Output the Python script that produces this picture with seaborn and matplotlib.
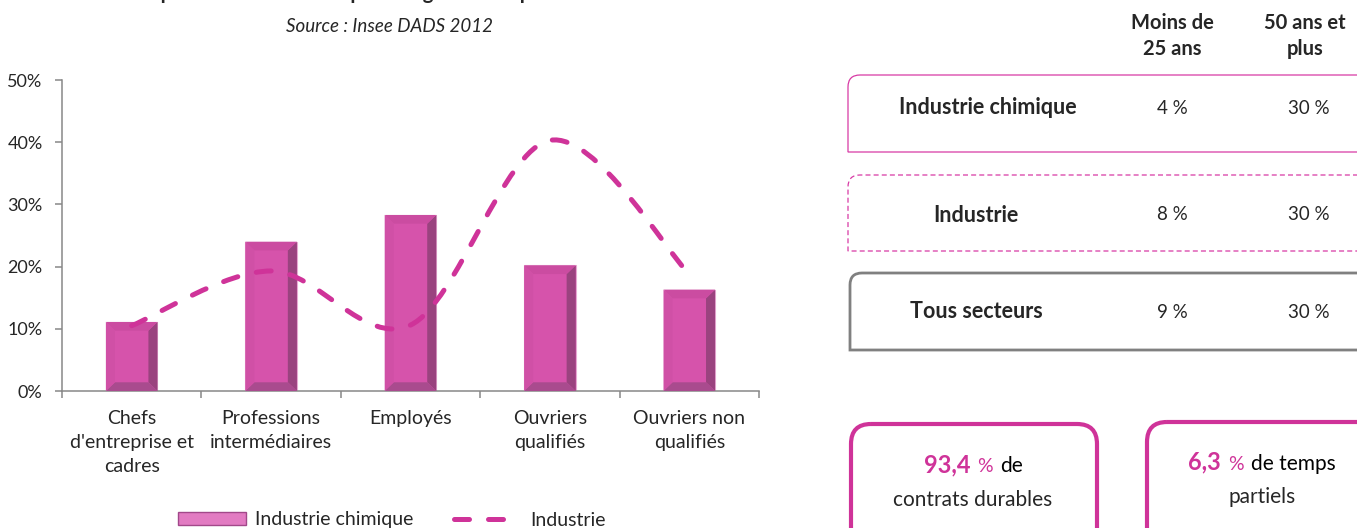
import numpy as np
import seaborn as sns
import matplotlib.pyplot as plt
from matplotlib.path import Path
from matplotlib.patches import PathPatch, Patch, Polygon, FancyBboxPatch
from matplotlib.lines import Line2D
from matplotlib.ticker import PercentFormatter, FixedLocator
from matplotlib.offsetbox import TextArea, HPacker, AnnotationBbox

# ---- data ----
categories = ["Chefs\nd'entreprise et\ncadres", "Professions\nintermédiaires",
              "Employés", "Ouvriers\nqualifiés", "Ouvriers non\nqualifiés"]
chimie = [0.111, 0.240, 0.283, 0.202, 0.163]
industrie = [0.105, 0.193, 0.106, 0.403, 0.188]

row_labels = ["Industrie chimique", "Industrie", "Tous secteurs"]
moins_25 = ["4 %", "8 %", "9 %"]
plus_50 = ["30 %", "30 %", "30 %"]
col_headers = ["Moins de\n25 ans", "50 ans et\nplus"]

PINK = "#D653AB"
LINE = "#CF3399"
GREY = "#888888"

sns.set_style("white")
plt.rcParams["font.family"] = ["Lato", "DejaVu Sans"]

W, H = 1357, 528
fig = plt.figure(figsize=(W / 100, H / 100), dpi=100)

# ---- bar + line chart ----
ax = fig.add_axes([62 / W, (H - 391) / H, (759 - 62) / W, (391 - 80) / H])
sns.barplot(x=list(range(len(categories))), y=chimie, ax=ax, color=PINK,
            width=0.37, saturation=1, edgecolor="#E7A9D2", linewidth=0.8, zorder=2)
ax.set_xlim(-0.5, len(categories) - 0.5)
ax.set_ylim(0, 0.5)

# bevel on each bar, taken from the patch geometry
bx, by = 0.065, 0.014
for p in ax.patches:
    x0, w, h = p.get_x(), p.get_width(), p.get_height()
    x1 = x0 + w
    ax.add_patch(Polygon([[x1, 0], [x1, h], [x1 - bx, h - by], [x1 - bx, by]],
                         closed=True, fc="#9A437F", ec="none", zorder=3))
    ax.add_patch(Polygon([[x0, 0], [x1, 0], [x1 - bx, by], [x0 + bx, by]],
                         closed=True, fc="#A94B8E", ec="none", zorder=3))
    ax.add_patch(Polygon([[x0, h], [x1, h], [x1 - bx, h - by], [x0 + bx, h - by]],
                         closed=True, fc="#CB4CA1", ec="none", zorder=3))
    ax.add_patch(Polygon([[x0, 0], [x0, h], [x0 + bx, h - by], [x0 + bx, by]],
                         closed=True, fc="#D050A6", ec="none", zorder=3))

# smoothed dashed line (Excel-like bezier through the points)
xs = np.arange(len(industrie), dtype=float)
ys = np.array(industrie)
verts = [(xs[0], ys[0])]
codes = [Path.MOVETO]
n = len(xs)
for i in range(n - 1):
    p0 = np.array([xs[max(i - 1, 0)], ys[max(i - 1, 0)]])
    p1 = np.array([xs[i], ys[i]])
    p2 = np.array([xs[i + 1], ys[i + 1]])
    p3 = np.array([xs[min(i + 2, n - 1)], ys[min(i + 2, n - 1)]])
    c1 = p1 + (p2 - p0) / 6
    c2 = p2 - (p3 - p1) / 6
    verts += [tuple(c1), tuple(c2), tuple(p2)]
    codes += [Path.CURVE4] * 3
curve = PathPatch(Path(verts, codes), fill=False, ec=LINE, lw=3.6,
                  linestyle=(0, (3.0, 3.8)), capstyle="round", zorder=5)
ax.add_patch(curve)

ax.yaxis.set_major_locator(FixedLocator([0, 0.1, 0.2, 0.3, 0.4, 0.5]))
ax.yaxis.set_major_formatter(PercentFormatter(1, decimals=0))
ax.xaxis.set_major_locator(FixedLocator(np.arange(-0.5, len(categories), 1.0)))
ax.xaxis.set_major_formatter(plt.NullFormatter())
ax.set_xticks(xs, minor=True)
ax.set_xticklabels(categories, minor=True, fontsize=14, linespacing=1.5,
                   va="top", ha="center")
ax.tick_params(axis="x", which="major", length=5, width=1.1, color=GREY, direction="out")
ax.tick_params(axis="x", which="minor", length=0, pad=14)
ax.tick_params(axis="y", length=5, width=1.1, color=GREY, direction="out",
               labelsize=13, pad=9)
ax.tick_params(axis="both", bottom=True, left=True)
sns.despine(ax=ax)
for s in ("left", "bottom"):
    ax.spines[s].set_color(GREY)
    ax.spines[s].set_linewidth(1.1)
ax.set_xlabel("")
ax.set_ylabel("")

handles = [Patch(fc="#E27BC2", ec="#A2488A", lw=1),
           Line2D([0], [0], color=LINE, lw=3.6, linestyle=(0, (3.0, 3.8)),
                  dash_capstyle="round")]
fig.legend(handles, ["Industrie chimique", "Industrie"], loc="center",
           bbox_to_anchor=(392 / W, 1 - 520 / H), ncol=2, frameon=False,
           fontsize=14, handlelength=3.5, handleheight=0.6, handletextpad=0.45,
           columnspacing=2.1)

# ---- overlay in pixel coordinates for titles and the right panel ----
ov = fig.add_axes([0, 0, 1, 1], zorder=-1)
ov.set_xlim(0, W)
ov.set_ylim(H, 0)
ov.axis("off")
ov.patch.set_alpha(0)

ov.text(397, -1, "Répartition des salariés par catégorie socioprofessionnelle",
        ha="center", va="baseline", fontsize=14.5, fontweight="bold")
ov.text(390, 27, "Source : Insee DADS 2012", ha="center", va="center",
        fontsize=13.5, style="italic")

# column headers
for xc, lab in zip([1172, 1305], col_headers):
    ov.text(xc, 36, lab, ha="center", va="center", fontsize=14.5,
            fontweight="bold", linespacing=1.4)


def open_box(x0, y0, y1, r, **kw):
    xr = W + 20
    v = [(xr, y0), (x0 + r, y0), (x0, y0), (x0, y0 + r), (x0, y1), (xr, y1)]
    c = [Path.MOVETO, Path.LINETO, Path.CURVE3, Path.CURVE3, Path.LINETO, Path.LINETO]
    ov.add_patch(PathPatch(Path(v, c), fill=False, **kw))


open_box(848, 75, 152, 12, ec="#D83AA5", lw=0.9)
open_box(848, 175, 251, 12, ec="#D83AA5", lw=0.9, linestyle=(0, (4, 2.5)))
open_box(850, 273, 350, 12, ec="#808080", lw=2.0)

row_y = [108, 215, 312]
row_x = [988, 976, 976]
for y, xl, lab, a, b in zip(row_y, row_x, row_labels, moins_25, plus_50):
    ov.text(xl, y, lab, ha="center", va="center", fontsize=15.5, fontweight="bold")
    ov.text(1172, y, a, ha="center", va="center", fontsize=13.5)
    ov.text(1309, y, b, ha="center", va="center", fontsize=13.5)

# key figure boxes
for x0, x1, y0 in [(851, 1097, 424), (1147, 1420, 422)]:
    ov.add_patch(FancyBboxPatch((x0, y0), x1 - x0, 150,
                                boxstyle="round,pad=0,rounding_size=20",
                                fill=False, ec=LINE, lw=3.0))


def key_line(xc, y, big, rest):
    parts = [TextArea(big, textprops=dict(color=LINE, fontsize=17, fontweight="bold")),
             TextArea("%", textprops=dict(color=LINE, fontsize=14)),
             TextArea(rest, textprops=dict(color="black", fontsize=15))]
    box = HPacker(children=parts, align="baseline", pad=0, sep=5)
    ov.add_artist(AnnotationBbox(box, (xc, y), xycoords="data", frameon=False,
                                 box_alignment=(0.5, 0.5), pad=0))


key_line(973, 465, "93,4", "de")
ov.text(973, 500, "contrats durables", ha="center", va="center", fontsize=15)
key_line(1262, 462, "6,3", "de temps")
ov.text(1262, 497, "partiels", ha="center", va="center", fontsize=15)

fig.savefig("out.png", dpi=100)
